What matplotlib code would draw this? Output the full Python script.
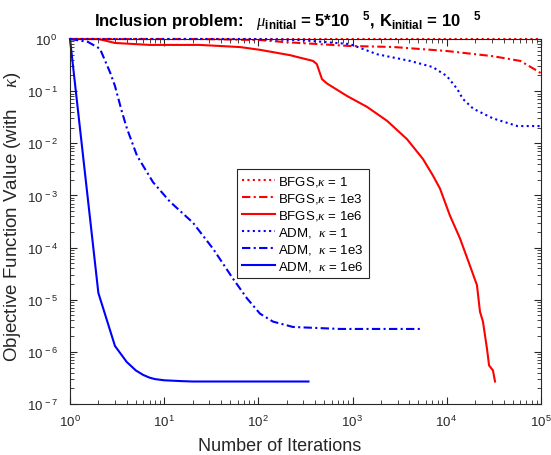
import matplotlib
matplotlib.use("Agg")
import matplotlib.pyplot as plt
from matplotlib.ticker import FixedLocator, NullFormatter, FuncFormatter
import numpy as np

plt.rcParams['font.family'] = ['Liberation Sans', 'DejaVu Sans']
plt.rcParams['mathtext.fontset'] = 'custom'
plt.rcParams['mathtext.rm'] = 'Liberation Sans'
plt.rcParams['mathtext.bf'] = 'Liberation Sans:bold'
plt.rcParams['mathtext.it'] = 'Liberation Serif:italic'
plt.rcParams['mathtext.default'] = 'regular'

# ---------------- data ----------------
x_ticks = [1, 10, 100, 1000, 10000, 100000]
y_ticks = [1e-7, 1e-6, 1e-5, 1e-4, 1e-3, 1e-2, 1e-1, 1]

bfgs1_x = [1, 100000]
bfgs1_y = [1, 1]

bfgs1e3_x = [1, 24, 104, 182, 933, 2692, 10000, 30900, 60300, 91200, 100000]
bfgs1e3_y = [1, 1, 0.955, 0.877, 0.735, 0.703, 0.589, 0.468, 0.38, 0.245, 0.22]

bfgs1e6_x = [1, 2, 3, 7, 24, 64, 104, 216, 380, 417, 473, 535, 870, 1420, 2320,
             3780, 5580, 7130, 8470, 10800, 13800, 17600, 20900, 22500, 24200,
             26700, 28100, 30900, 32500]
bfgs1e6_y = [1, 1, 0.84, 0.77, 0.77, 0.70, 0.62, 0.49, 0.38, 0.33, 0.17, 0.14,
             0.081, 0.050, 0.027, 0.012, 0.0050, 0.0024, 0.00135, 4.1e-4, 1.5e-4,
             4.5e-5, 1.9e-5, 5.9e-6, 3.8e-6, 1.15e-6, 5.5e-7, 4.4e-7, 2.7e-7]

adm1_x = [1, 81, 275, 933, 1820, 4070, 7080, 10000, 12900, 14800, 19100, 30900,
          56200, 100000]
adm1_y = [1, 1, 0.955, 0.80, 0.51, 0.38, 0.29, 0.195, 0.11, 0.071, 0.046, 0.030,
          0.0214, 0.0214]

adm1e3_x = [1, 1.55, 2.08, 2.66, 3.0, 3.56, 4.03, 5.14, 7.6, 11.5, 20.2, 33, 54,
            76, 104, 143, 233, 735, 5600]
adm1e3_y = [1, 0.88, 0.65, 0.23, 0.126, 0.040, 0.019, 0.0058, 0.0018, 7.6e-4,
            3.0e-4, 9.5e-5, 2.5e-5, 1.05e-5, 5.4e-6, 3.8e-6, 3.0e-6, 2.75e-6, 2.75e-6]

adm1e6_x = [1, 2, 3, 4, 5, 6, 7, 8, 10, 15, 20, 50, 100, 340]
adm1e6_y = [1, 1.35e-5, 1.3e-6, 6.4e-7, 4.4e-7, 3.6e-7, 3.2e-7, 3.0e-7, 2.85e-7,
            2.75e-7, 2.7e-7, 2.7e-7, 2.7e-7, 2.7e-7]

labels = [r"BFGS,$\mathit{\kappa}$ = 1", r"BFGS,$\mathit{\kappa}$ = 1e3",
          r"BFGS,$\mathit{\kappa}$ = 1e6", r"ADM,  $\mathit{\kappa}$ = 1",
          r"ADM,  $\mathit{\kappa}$ = 1e3", r"ADM,  $\mathit{\kappa}$ = 1e6"]

# ---------------- plot ----------------
fig = plt.figure(figsize=(5.51, 4.56), dpi=100)
ax = fig.add_axes([70/551, 1-405/456, 471/551, 365/456])

dot = (0, (1, 1.6))
dashdot = (0, (4, 1.6, 1, 1.6))
lw = 1.5
series = [
    (bfgs1_x, bfgs1_y, 'red', dot),
    (bfgs1e3_x, bfgs1e3_y, 'red', dashdot),
    (bfgs1e6_x, bfgs1e6_y, 'red', '-'),
    (adm1_x, adm1_y, 'blue', dot),
    (adm1e3_x, adm1e3_y, 'blue', dashdot),
    (adm1e6_x, adm1e6_y, 'blue', '-'),
]
for (x, y, c, ls), lab in zip(series, labels):
    ax.plot(x, y, color=c, linestyle=ls, linewidth=lw, label=lab, clip_on=False)

ax.set_xscale('log')
ax.set_yscale('log')
ax.set_xlim(x_ticks[0], x_ticks[-1])
ax.set_ylim(y_ticks[0], y_ticks[-1])

def minors(majors):
    out = []
    for m in majors[:-1]:
        out += [m * k for k in range(2, 10)]
    return out

ax.xaxis.set_major_locator(FixedLocator(x_ticks))
ax.yaxis.set_major_locator(FixedLocator(y_ticks))
ax.xaxis.set_minor_locator(FixedLocator(minors(x_ticks)))
ax.yaxis.set_minor_locator(FixedLocator(minors(y_ticks)))
ax.xaxis.set_minor_formatter(NullFormatter())
ax.yaxis.set_minor_formatter(NullFormatter())

def fmt(v, pos):
    e = int(round(np.log10(v)))
    return r"10$^{\,%d}$" % e
ax.xaxis.set_major_formatter(FuncFormatter(fmt))
ax.yaxis.set_major_formatter(FuncFormatter(fmt))

axcol = '#262626'
for s in ax.spines.values():
    s.set_color(axcol)
    s.set_linewidth(0.8)
ax.tick_params(which='both', direction='in', top=True, right=True, colors=axcol,
               labelcolor='#262626')
ax.tick_params(which='major', length=5, width=0.8, labelsize=9.5)
ax.tick_params(axis='x', which='major', pad=7)
ax.tick_params(axis='y', which='major', pad=8.5)
ax.tick_params(which='minor', length=3, width=0.6)

ax.set_xlabel("Number of Iterations", fontsize=13, color='#262626')
ax.xaxis.set_label_coords(0.446, -0.113)
ax.xaxis.label.set_va('center')
ax.set_ylabel(r"Objective Function Value (with    $\mathit{\kappa}$)", fontsize=13.5,
              color='#262626')
ax.yaxis.set_label_coords(-0.122, 0.515)
ax.yaxis.label.set_va('center')

ax.set_title(r"Inclusion problem:   $\mathit{\mu}_{\mathbf{initial}}$ = 5*10   $^{5}$, K$_{\mathbf{initial}}$ = 10   $^{5}$",
             fontsize=12, fontweight='bold', pad=10, x=0.462)

leg = ax.legend(loc='upper left', bbox_to_anchor=(0.3546, 0.644), fontsize=9.5,
                frameon=True, fancybox=False, framealpha=1, edgecolor='#262626',
                handlelength=2.5, handletextpad=0.2, borderpad=0.4,
                labelspacing=0.22, borderaxespad=0)
leg.get_frame().set_linewidth(0.8)

fig.savefig("out.png", dpi=100)
